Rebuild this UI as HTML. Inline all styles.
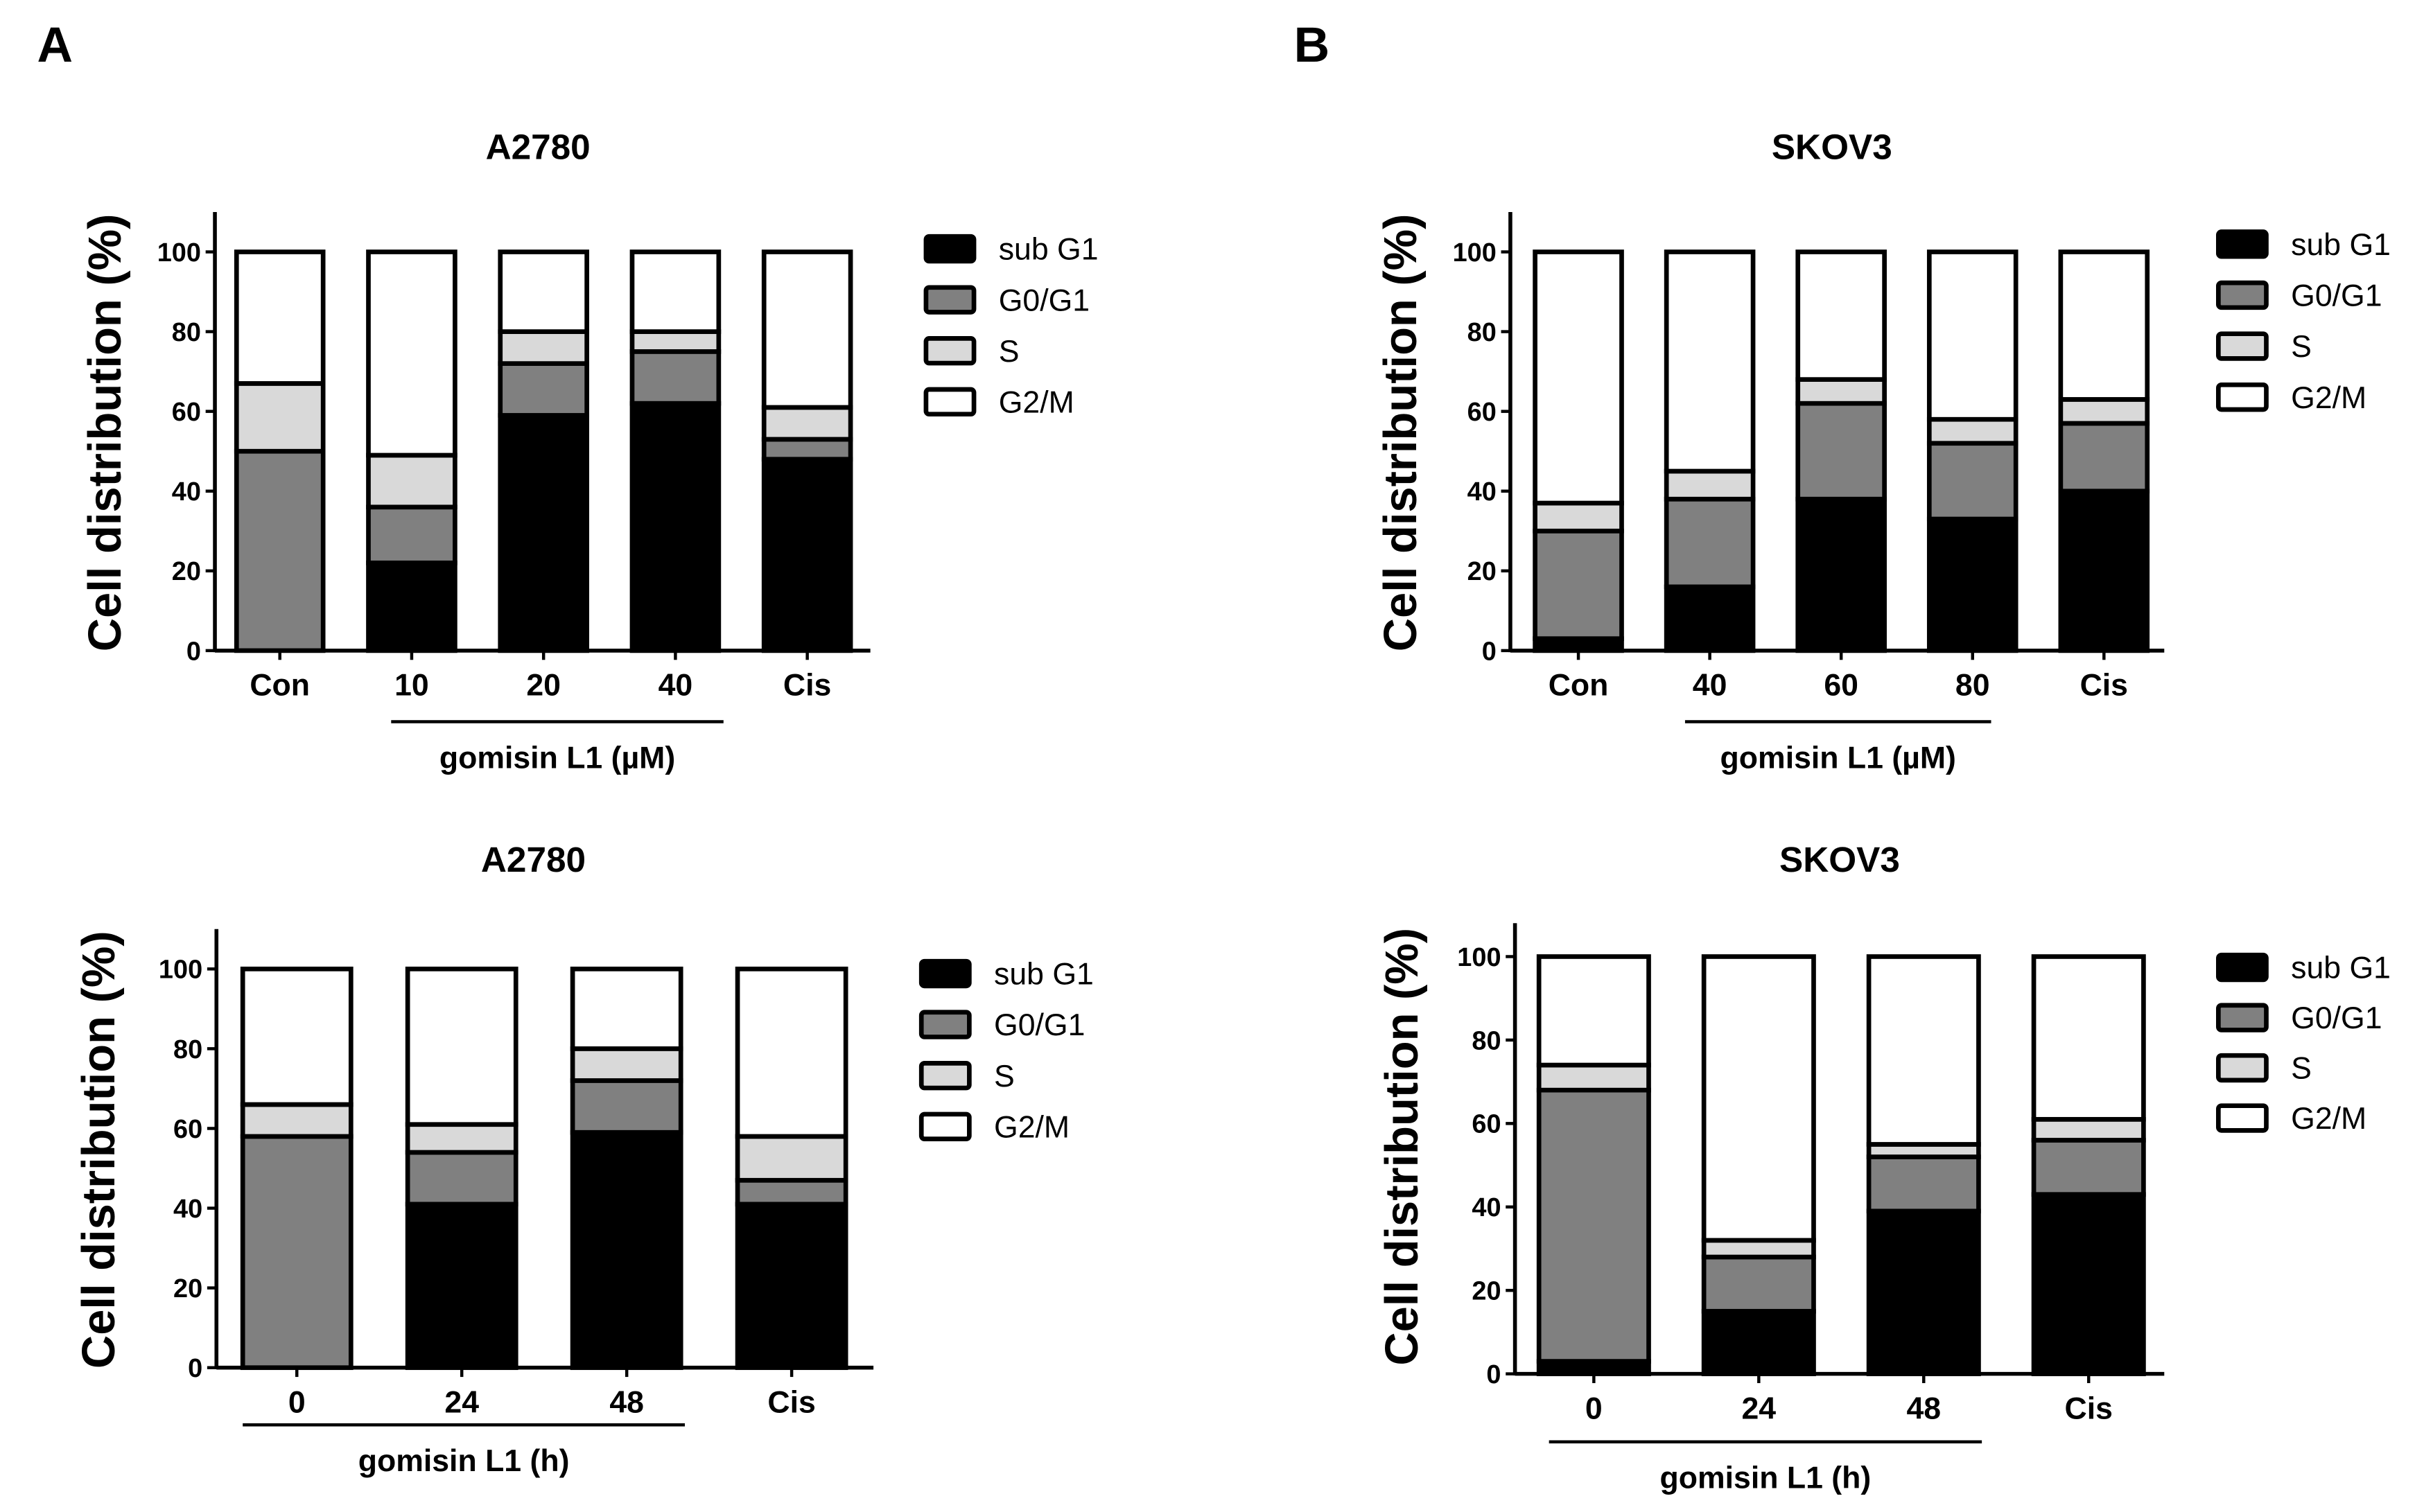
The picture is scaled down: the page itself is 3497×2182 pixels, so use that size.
<!DOCTYPE html>
<html><head><meta charset="utf-8"><style>
html,body{margin:0;padding:0;background:#fff;}
svg{display:block;font-family:"Liberation Sans",Arial,sans-serif;}
</style></head><body>
<svg id="fig" width="3497" height="2182" viewBox="0 0 1568 978.4" xmlns="http://www.w3.org/2000/svg">
<text x="24" y="40" font-size="32" font-weight="bold">A</text>
<text x="837" y="40" font-size="32" font-weight="bold">B</text>
</svg>
<script>
const catsTL = ["Con","10","20","40","Cis"];
const subG1TL = [0,22,59,62,48];
const g0g1TL = [50,14,13,13,5];
const sTL = [17,13,8,5,8];

const catsTR = ["Con","40","60","80","Cis"];
const subG1TR = [3,16,38,33,40];
const g0g1TR = [27,22,24,19,17];
const sTR = [7,7,6,6,6];

const catsBL = ["0","24","48","Cis"];
const subG1BL = [0,41,59,41];
const g0g1BL = [58,13,13,6];
const sBL = [8,7,8,11];

const catsBR = ["0","24","48","Cis"];
const subG1BR = [3,15,39,43];
const g0g1BR = [65,13,13,13];
const sBR = [6,4,3,5];

const yTicks = [0,20,40,60,80,100];
const legendLabels = ["sub G1","G0/G1","S","G2/M"];
const fills = ["#000","#808080","#d9d9d9","#fff"];

const NS="http://www.w3.org/2000/svg";
const svg=document.getElementById('fig');
function mk(tag,attrs,parent){const e=document.createElementNS(NS,tag);for(const k in attrs)e.setAttribute(k,attrs[k]);(parent||svg).appendChild(e);return e;}

function chart(o){
  const g=mk('g',{});
  
  
  const y=v=>o.y0-(o.y0-o.y100)*v/100;
  o.cats.forEach((c,i)=>{
    const cx=o.x0+o.step*i, x=cx-o.bw/2;
    const vals=[o.sub[i],o.g0[i],o.s[i],100-o.sub[i]-o.g0[i]-o.s[i]];
    let base=0;
    vals.forEach((v,k)=>{
      if(v<=0){return;}
      const r=mk('rect',{x:x,y:y(base+v),width:o.bw,height:y(base)-y(base+v),fill:fills[k],stroke:'#000','stroke-width':3},g);
      
      
      base+=v;
    });
    mk('line',{x1:cx,x2:cx,y1:o.y0,y2:o.y0+6,stroke:'#000','stroke-width':2},g);
    const t=mk('text',{x:cx,y:o.y0+29,'font-size':20,'font-weight':'bold','text-anchor':'middle'},g);
    t.textContent=c;
    
    
  });
  mk('line',{x1:o.ax,x2:o.ax,y1:y(o.ytop||110),y2:o.y0+1,stroke:'#000','stroke-width':2.5},g);
  mk('line',{x1:o.ax,x2:o.axEnd,y1:o.y0,y2:o.y0,stroke:'#000','stroke-width':2.5},g);
  yTicks.forEach(v=>{
    mk('line',{x1:o.ax-6,x2:o.ax,y1:y(v),y2:y(v),stroke:'#000','stroke-width':2},g);
    const t=mk('text',{x:o.ax-9,y:y(v)+6,'font-size':17,'font-weight':'bold','text-anchor':'end'},g);
    t.textContent=v;
    
    
  });
  const yl=mk('text',{x:0,y:0,'font-size':30,'font-weight':'bold','text-anchor':'middle',transform:`translate(${o.ylx},${(o.y0+o.y100)/2-12}) rotate(-90)`},g);
  yl.textContent='Cell distribution (%)';
  
  
  const ti=mk('text',{x:o.tx,y:o.ty,'font-size':23,'font-weight':'bold','text-anchor':'middle'},g);
  ti.textContent=o.title;
  
  
  const br=mk('line',{x1:o.b1,x2:o.b2,y1:o.by,y2:o.by,stroke:'#000','stroke-width':2},g);
  
  
  const bt=mk('text',{x:(o.b1+o.b2)/2,y:o.by+30,'font-size':20,'font-weight':'bold','text-anchor':'middle'},g);
  bt.textContent=o.btxt;
  
  
  legendLabels.forEach((l,k)=>{
    const ly=o.ly+o.lstep*k;
    const r=mk('rect',{x:o.lx,y:ly-8,width:31,height:16,fill:fills[k],stroke:'#000','stroke-width':3,rx:2},g);
    
    
    const t=mk('text',{x:o.lx+47,y:ly+7,'font-size':20},g);
    t.textContent=l;
    
    
  });
}

chart({name:'chart-a2780-dose',cats:catsTL,sub:subG1TL,g0:g0g1TL,s:sTL,x0:181,step:85.3,bw:56,y0:421,y100:163,ax:139,axEnd:563,ylx:78,tx:348,ty:103,title:'A2780',b1:253,b2:468,by:467,btxt:'gomisin L1 (\u00b5M)',lx:599,ly:161,lstep:33});
chart({name:'chart-skov3-dose',cats:catsTR,sub:subG1TR,g0:g0g1TR,s:sTR,x0:1021,step:85,bw:56,y0:421,y100:163,ax:977,axEnd:1400,ylx:916,tx:1185,ty:103,title:'SKOV3',b1:1090,b2:1288,by:467,btxt:'gomisin L1 (\u00b5M)',lx:1435,ly:158,lstep:33});
chart({name:'chart-a2780-time',cats:catsBL,sub:subG1BL,g0:g0g1BL,s:sBL,x0:192,step:106.7,bw:70,y0:885,y100:627,ax:140,axEnd:565,ylx:74,tx:345,ty:564,title:'A2780',b1:157,b2:443,by:922,btxt:'gomisin L1 (h)',lx:596,ly:630,lstep:33});
chart({name:'chart-skov3-time',cats:catsBR,sub:subG1BR,g0:g0g1BR,s:sBR,x0:1031,step:106.7,bw:71,y0:889,y100:619,ytop:108,ax:980,axEnd:1400,ylx:917,tx:1190,ty:564,title:'SKOV3',b1:1002,b2:1282,by:933,btxt:'gomisin L1 (h)',lx:1435,ly:626,lstep:32.5});
</script>
</body></html>
